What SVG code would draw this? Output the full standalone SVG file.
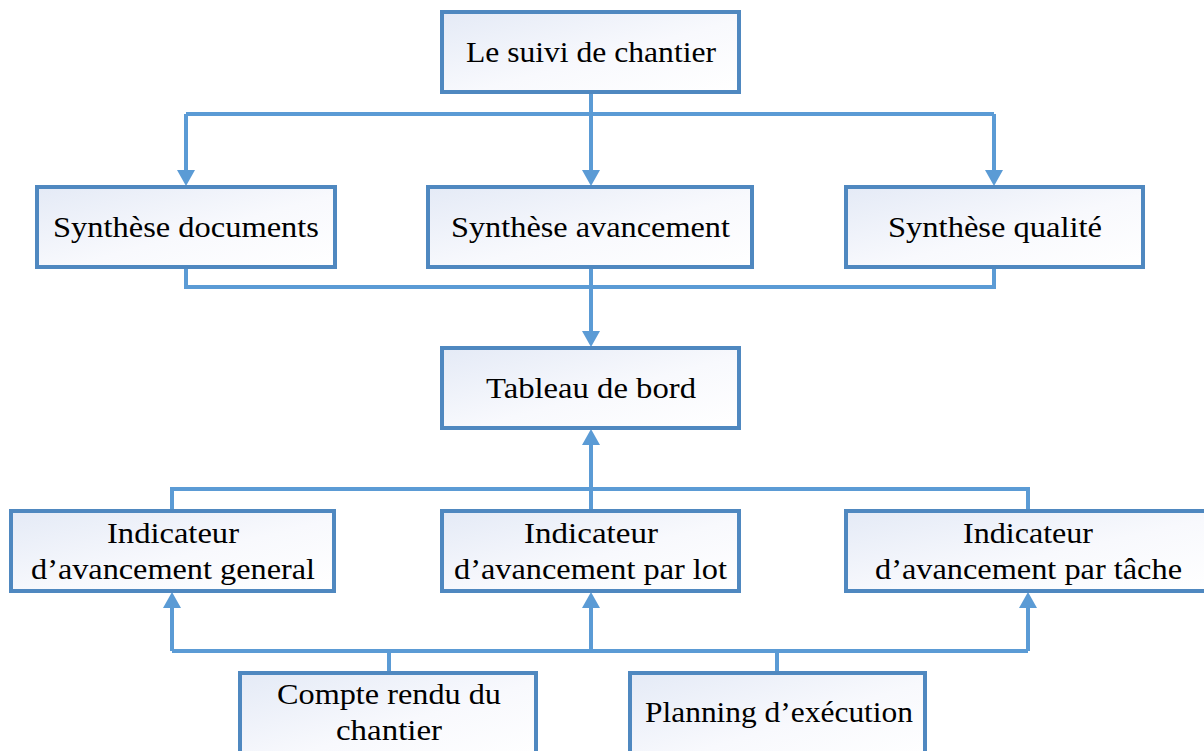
<svg xmlns="http://www.w3.org/2000/svg" width="1204" height="751" viewBox="0 0 1204 751">
  <defs>
    <linearGradient id="boxFill" x1="0" y1="0" x2="1" y2="1">
      <stop offset="0" stop-color="#e4eaf6"/>
      <stop offset="0.55" stop-color="#f8f9fd"/>
      <stop offset="1" stop-color="#ffffff"/>
    </linearGradient>
    <marker id="arrow" viewBox="0 0 16 18" refX="0" refY="9" markerWidth="16" markerHeight="18" markerUnits="userSpaceOnUse" orient="auto">
      <path d="M0,0 L16,9 L0,18 Z" fill="#5b9bd5"/>
    </marker>
  </defs>
  <style>
    .box { fill: url(#boxFill); stroke: #4f88c0; stroke-width: 4; }
    .lbl { font-family: "Liberation Serif", "DejaVu Serif", serif; font-size: 30px; fill: #000; text-anchor: middle; }
    .wire { fill: none; stroke: #5b9bd5; stroke-width: 4; stroke-linejoin: miter; }
    .arr { fill: none; stroke: #5b9bd5; stroke-width: 4; marker-end: url(#arrow); }
  </style>
  <rect width="1204" height="751" fill="#ffffff"/>

  <!-- connectors -->
  <g id="connectors">
    <!-- from the top box to the three syntheses -->
    <path class="wire" d="M591,92 V114 M186,114 H994"/>
    <path class="arr" d="M186,114 V170"/>
    <path class="arr" d="M591,114 V170"/>
    <path class="arr" d="M994,114 V170"/>
    <!-- syntheses merge into the dashboard -->
    <path class="wire" d="M186,268 V287 H994 V268"/>
    <path class="arr" d="M591,268 V331"/>
    <!-- indicators feed the dashboard -->
    <path class="wire" d="M172,510 V489 H1028 V510"/>
    <path class="arr" d="M591,510 V445"/>
    <!-- bottom sources feed the indicators -->
    <path class="wire" d="M172,651 H1028 M389,651 V672 M777,651 V672"/>
    <path class="arr" d="M172,651 V608"/>
    <path class="arr" d="M591,651 V608"/>
    <path class="arr" d="M1028,651 V608"/>
  </g>

  <g id="suivi">
    <rect class="box" x="442" y="12" width="297" height="80"/>
    <text class="lbl" x="591" y="62" textLength="250" lengthAdjust="spacingAndGlyphs">Le suivi de chantier</text>
  </g>

  <g id="synthese-documents">
    <rect class="box" x="37" y="187" width="298" height="80"/>
    <text class="lbl" x="186" y="237" textLength="266" lengthAdjust="spacingAndGlyphs">Synthèse documents</text>
  </g>
  <g id="synthese-avancement">
    <rect class="box" x="428" y="187" width="324" height="80"/>
    <text class="lbl" x="590.5" y="237" textLength="279" lengthAdjust="spacingAndGlyphs">Synthèse avancement</text>
  </g>
  <g id="synthese-qualite">
    <rect class="box" x="846" y="187" width="297" height="80"/>
    <text class="lbl" x="995" y="237" textLength="214" lengthAdjust="spacingAndGlyphs">Synthèse qualité</text>
  </g>

  <g id="tableau-de-bord">
    <rect class="box" x="442" y="348" width="297" height="80"/>
    <text class="lbl" x="591" y="398" textLength="210" lengthAdjust="spacingAndGlyphs">Tableau de bord</text>
  </g>

  <g id="indicateur-general">
    <rect class="box" x="11" y="511" width="323" height="80"/>
    <text class="lbl" x="173" y="543" textLength="132" lengthAdjust="spacingAndGlyphs">Indicateur</text>
    <text class="lbl" x="173" y="579" textLength="284" lengthAdjust="spacingAndGlyphs">d’avancement general</text>
  </g>
  <g id="indicateur-lot">
    <rect class="box" x="442" y="511" width="297" height="80"/>
    <text class="lbl" x="591" y="543" textLength="134" lengthAdjust="spacingAndGlyphs">Indicateur</text>
    <text class="lbl" x="590.5" y="579" textLength="273" lengthAdjust="spacingAndGlyphs">d’avancement par lot</text>
  </g>
  <g id="indicateur-tache">
    <rect class="box" x="846" y="511" width="364" height="80"/>
    <text class="lbl" x="1028" y="543" textLength="130" lengthAdjust="spacingAndGlyphs">Indicateur</text>
    <text class="lbl" x="1028.5" y="579" textLength="307" lengthAdjust="spacingAndGlyphs">d’avancement par tâche</text>
  </g>

  <g id="compte-rendu">
    <rect class="box" x="240" y="673" width="296" height="90"/>
    <text class="lbl" x="389" y="704" textLength="224" lengthAdjust="spacingAndGlyphs">Compte rendu du</text>
    <text class="lbl" x="389" y="740" textLength="106" lengthAdjust="spacingAndGlyphs">chantier</text>
  </g>
  <g id="planning">
    <rect class="box" x="630" y="673" width="295" height="90"/>
    <text class="lbl" x="779" y="722" textLength="268" lengthAdjust="spacingAndGlyphs">Planning d’exécution</text>
  </g>
</svg>
